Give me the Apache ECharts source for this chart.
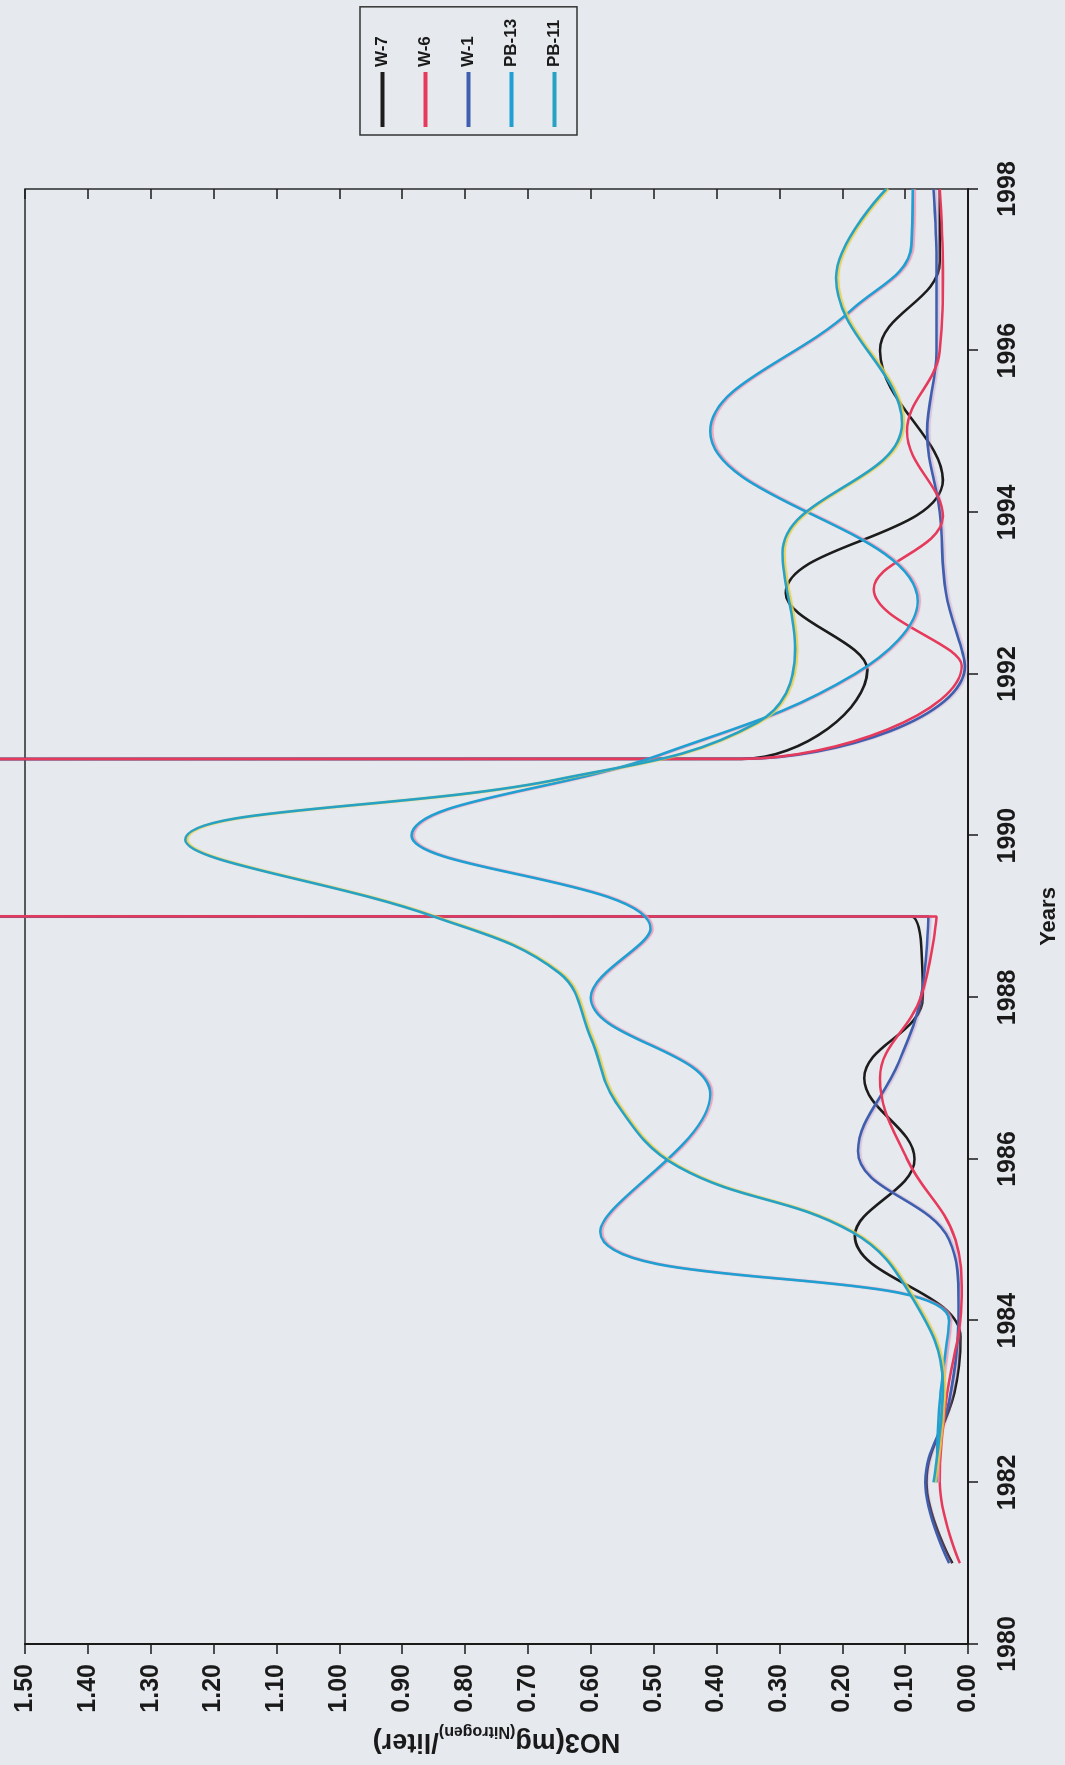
<!DOCTYPE html>
<html><head><meta charset="utf-8">
<script src="https://cdn.jsdelivr.net/npm/echarts/dist/echarts.min.js"></script>
<style>
html,body{margin:0;padding:0;background:#e6e9ed;width:1065px;height:1765px;overflow:hidden;}
#wrap{position:absolute;left:-350px;top:350px;width:1765px;height:1065px;transform:rotate(-90deg);transform-origin:50% 50%;}
#chart{width:1765px;height:1065px;}
</style></head><body>
<div id="wrap"><div id="chart"></div></div>
<script>
// ---- data ----
const seriesNames = ['W-7', 'W-6', 'W-1', 'PB-13', 'PB-11'];
const yearTicks = [1980, 1982, 1984, 1986, 1988, 1990, 1992, 1994, 1996, 1998];
const valueTicks = [0.0,0.1,0.2,0.3,0.4,0.5,0.6,0.7,0.8,0.9,1.0,1.1,1.2,1.3,1.4,1.5];

// W-7 (black); the 1990 point is far off scale (spike above 1.50)
const w7Years  = [1981.0, 1982.0, 1983.1, 1983.8, 1985.05, 1986.0, 1987.0, 1988.0, 1989.0, 1990.0, 1990.95, 1992.05, 1993.0, 1994.4, 1996.0, 1997.1, 1998.0];
const w7Values = [0.025, 0.066, 0.022, 0.012, 0.18, 0.085, 0.165, 0.072, 0.09, 999, 0.36, 0.16, 0.29, 0.04, 0.14, 0.045, 0.045];

// W-6 (red)
const w6Years  = [1981.0, 1982.0, 1983.0, 1984.3, 1985.0, 1986.0, 1987.0, 1988.0, 1989.0, 1990.0, 1990.95, 1992.1, 1993.05, 1993.95, 1995.0, 1996.0, 1997.0, 1998.0];
const w6Values = [0.013, 0.045, 0.035, 0.01, 0.02, 0.097, 0.14, 0.075, 0.05, 999, 0.36, 0.01, 0.15, 0.04, 0.097, 0.045, 0.04, 0.045];

// W-1 (navy)
const w1Years  = [1981.0, 1982.0, 1983.0, 1984.2, 1985.0, 1986.1, 1987.2, 1988.0, 1989.0, 1990.0, 1990.95, 1992.1, 1993.0, 1994.0, 1995.0, 1996.0, 1997.0, 1998.0];
const w1Values = [0.03, 0.068, 0.03, 0.015, 0.03, 0.175, 0.11, 0.075, 0.063, 999, 0.36, 0.005, 0.035, 0.045, 0.065, 0.05, 0.05, 0.055];

// PB-13 (cyan)
const pb13Years  = [1982.0, 1983.0, 1984.0, 1985.1, 1986.8, 1988.0, 1988.85, 1990.0, 1991.0, 1992.0, 1992.9, 1995.0, 1996.5, 1997.3, 1998.0];
const pb13Values = [0.05, 0.045, 0.03, 0.585, 0.41, 0.6, 0.505, 0.885, 0.49, 0.18, 0.08, 0.41, 0.186, 0.09, 0.088];

// PB-11 (cyan / green)
const pb11Years  = [1982.0, 1983.2, 1984.3, 1985.1, 1985.9, 1986.7, 1987.5, 1988.3, 1989.0, 1989.95, 1990.7, 1991.4, 1992.3, 1993.5, 1995.1, 1996.9, 1998.0];
const pb11Values = [0.055, 0.04, 0.09, 0.185, 0.46, 0.56, 0.6, 0.65, 0.85, 1.245, 0.65, 0.335, 0.275, 0.295, 0.105, 0.21, 0.13];

// ---- chart ----
const zip = (xs, ys) => xs.map((x, i) => [x, ys[i]]);
const seriesData = [zip(w7Years, w7Values), zip(w6Years, w6Values), zip(w1Years, w1Values), zip(pb13Years, pb13Values), zip(pb11Years, pb11Values)];
const colors = ['#1c1c1c', '#e63a5c', '#3f5fae', '#1f9fd2', '#27a2c4'];
const shadows = [null, null, 'rgba(190,130,190,0.35)', 'rgba(235,140,175,0.75)', 'rgba(232,205,70,0.9)'];
const zOrder = [2, 4, 3, 5, 6];
const FONT = '"Liberation Sans", Arial, sans-serif';

const chart = echarts.init(document.getElementById('chart'), null, {renderer: 'canvas'});
const axisCommonX = {type: 'value', min: yearTicks[0], max: yearTicks[yearTicks.length - 1], interval: 2};
const axisCommonY = {type: 'value', min: valueTicks[0], max: valueTicks[valueTicks.length - 1], interval: 0.1};

chart.setOption({
  animation: false,
  backgroundColor: '#e6e9ed',
  color: colors,
  grid: {left: 121, right: 189, top: 25, bottom: 93, show: true, borderColor: '#2a2a2a', borderWidth: 1.5, backgroundColor: 'transparent'},
  legend: {
    orient: 'vertical', left: 1630, top: 360,
    padding: [14, 12, 14, 8], itemGap: 26, itemWidth: 55, itemHeight: 4,
    icon: 'rect',
    borderColor: '#333', borderWidth: 1.5,
    textStyle: {fontFamily: FONT, fontWeight: 'bold', fontSize: 17, color: '#1a1a1a'},
    data: seriesNames
  },
  xAxis: [
    Object.assign({}, axisCommonX, {
      name: 'Years', nameLocation: 'middle', nameGap: 70,
      nameTextStyle: {fontFamily: FONT, fontWeight: 'bold', fontSize: 22, color: '#1a1a1a'},
      axisLine: {show: true, lineStyle: {color: '#1a1a1a', width: 2}},
      axisTick: {show: true, inside: false, length: 10, lineStyle: {color: '#1a1a1a', width: 1.5}},
      axisLabel: {margin: 28, fontFamily: FONT, fontWeight: 'bold', fontSize: 25, color: '#1a1a1a', formatter: v => String(v)},
      splitLine: {show: false}
    }),
    Object.assign({}, axisCommonX, {
      axisLine: {show: false}, axisLabel: {show: false}, splitLine: {show: false},
      axisTick: {show: true, inside: true, length: 10, lineStyle: {color: '#1a1a1a', width: 1.5}}
    })
  ],
  yAxis: [
    Object.assign({}, axisCommonY, {
      name: '{a|NO3(mg}{s|(Nitrogen)}{a|/liter)}', nameLocation: 'middle', nameGap: 65,
      nameTextStyle: {rich: {
        a: {fontFamily: FONT, fontWeight: 'bold', fontSize: 27, color: '#1a1a1a', verticalAlign: 'bottom'},
        s: {fontFamily: FONT, fontWeight: 'bold', fontSize: 16, color: '#1a1a1a', verticalAlign: 'bottom', padding: [0, 0, -4, 0]}
      }},
      axisLine: {show: true, lineStyle: {color: '#1a1a1a', width: 2}},
      axisTick: {show: true, inside: false, length: 10, lineStyle: {color: '#1a1a1a', width: 1.5}},
      axisLabel: {margin: 20, fontFamily: FONT, fontWeight: 'bold', fontSize: 25, color: '#1a1a1a', formatter: v => v.toFixed(2)},
      splitLine: {show: false}
    }),
    Object.assign({}, axisCommonY, {
      axisLine: {show: false}, axisLabel: {show: false}, splitLine: {show: false},
      axisTick: {show: true, inside: true, length: 10, lineStyle: {color: '#1a1a1a', width: 1.5}}
    })
  ],
  series: seriesNames.map((name, i) => ({
    name: name, type: 'line', data: seriesData[i], xAxisIndex: 0, yAxisIndex: 0,
    smooth: 0.4, symbol: 'none', clip: false, z: zOrder[i],
    lineStyle: Object.assign({color: colors[i], width: 2.6},
      shadows[i] ? {shadowColor: shadows[i], shadowBlur: 1, shadowOffsetX: 0, shadowOffsetY: 2} : {})
  }))
});
</script>
</body></html>
